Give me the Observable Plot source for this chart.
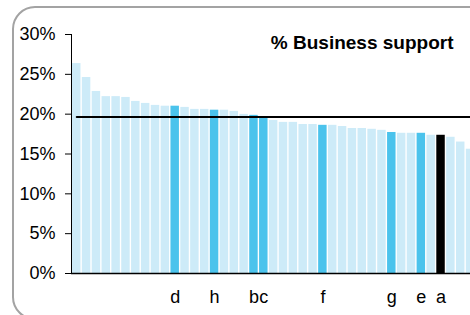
<!DOCTYPE html>
<html><head><meta charset="utf-8">
<script src="https://cdn.jsdelivr.net/npm/d3@7"></script>
<script src="https://cdn.jsdelivr.net/npm/@observablehq/plot@0.6"></script>
<style>
html,body{margin:0;padding:0;overflow:hidden;background:#fff;}
#wrap{position:relative;width:470px;height:315px;overflow:hidden;}
#frame{position:absolute;left:12px;top:6px;width:490px;height:310px;border:2px solid #a3a3a3;border-radius:23px;pointer-events:none;}
</style></head><body><div id="wrap"><div id="chart"></div><div id="frame"></div></div>
<script>
const values = [26.35, 24.6, 22.85, 22.2, 22.2, 22.1, 21.6, 21.35, 21.1, 21.0,
  21.0, 20.85, 20.6, 20.6, 20.5, 20.5, 20.35, 19.97, 19.85, 19.6,
  19.2, 18.97, 18.97, 18.7, 18.7, 18.6, 18.6, 18.45, 18.2, 18.2,
  18.1, 17.97, 17.7, 17.6, 17.6, 17.6, 17.35, 17.35, 17.1, 16.5, 15.6];
const labels = ["", "", "", "", "", "", "", "", "", "",
  "d", "", "", "", "h", "", "", "", "b", "c",
  "", "", "", "", "", "f", "", "", "", "",
  "", "", "g", "", "", "e", "", "a", "", "", ""];
const average = 19.66;
const yTicks = [0, 5, 10, 15, 20, 25, 30];
const title = "% Business support";

const rows = values.map((v, i) => ({i, value: v, label: labels[i]}));
const color = d => d.label === "a" ? "#000000" : d.label ? "#4bc3ec" : "#cdebf8";

const chart = Plot.plot({
  width: 470, height: 315,
  marginLeft: 71, marginRight: 0, marginTop: 34, marginBottom: 42,
  style: {fontFamily: "'Liberation Sans', Arial, sans-serif", fontSize: "18px", color: "#000", background: "transparent"},
  x: {type: "band", domain: rows.map(d => d.i), range: [72, 474.3], paddingInner: 0.14, paddingOuter: 0, align: 0, axis: null},
  y: {domain: [0, 30], ticks: yTicks, tickFormat: d => d + "%", tickSize: 6, tickPadding: 10, label: null, line: true},
  marks: [
    Plot.barY(rows, {x: "i", y: "value", fill: color}),
    Plot.ruleY([0], {stroke: "#000", strokeWidth: 1.5}),
    Plot.lineY(rows, {x: "i", y: () => average, stroke: "#000", strokeWidth: 2}),
    Plot.text(rows.filter(d => d.label), {x: "i", text: "label", frameAnchor: "bottom", dy: 29, fontSize: 18}),
    Plot.text([title], {frameAnchor: "top-right", dx: -17, dy: 1, lineAnchor: "top", textAnchor: "end", fontWeight: "bold", fontSize: 19})
  ]
});
document.getElementById("chart").appendChild(chart);
</script>
</body></html>
